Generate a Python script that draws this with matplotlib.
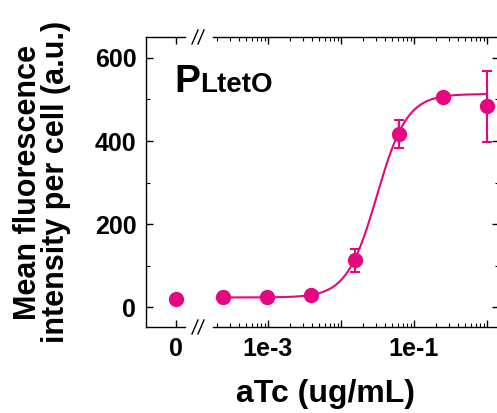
"""
Dose-response of the PLtetO promoter to aTc (broken x axis: 0 + log range).
"""

import numpy as np
import matplotlib
matplotlib.use('Agg')
import matplotlib.pyplot as plt
from matplotlib.lines import Line2D
from matplotlib.ticker import FixedLocator, NullFormatter

# Data
ZERO_DOSE_MEAN = [21]
ATC_DOSE = [0.000244, 0.000977, 0.0039, 0.0156, 0.0625, 0.25, 1.0]
FLUOR_MEAN = [24, 25, 30, 113, 417, 505, 483]
FLUOR_ERR = [0, 0, 0, 27, 33, 6, 86]

# Hill fit parameters (curve drawn through the points)
FIT_BOTTOM = 24
FIT_TOP = 513
FIT_K = 0.031
FIT_N = 2.1

Y_TICKS = [0, 200, 400, 600]
Y_MINOR = [100, 300, 500]
DECADES = [1e-4, 1e-3, 1e-2, 1e-1, 1]
DECADE_LABELS = ['', '1e-3', '', '1e-1', '']

COLOR = '#E6067F'
FONT = 'Liberation Sans'
W, H = 497, 413


def fx(px):
    return px / W


def fy(py):
    return 1 - py / H


def style_ticks(ax):
    ax.tick_params(which='major', direction='in', length=5, width=1,
                   labelsize=18, pad=7)
    ax.tick_params(which='minor', direction='in', length=2.8, width=0.8)
    for lab in ax.get_xticklabels() + ax.get_yticklabels():
        lab.set_fontfamily(FONT)
        lab.set_fontweight('bold')


def main():
    plt.rcParams['font.family'] = FONT
    plt.rcParams['font.weight'] = 'bold'

    fig = plt.figure(figsize=(W / 100, H / 100), dpi=100)
    top, bottom = 37, 327
    ax0 = fig.add_axes([fx(146), fy(bottom), fx(185 - 146), (bottom - top) / H])
    ax1 = fig.add_axes([fx(212.5), fy(bottom), fx(499 - 212.5), (bottom - top) / H],
                       sharey=ax0)

    # zero-dose segment
    ax0.plot([0], ZERO_DOSE_MEAN, 'o', color=COLOR, markersize=10, clip_on=False)
    ax0.set_xticks([0])
    ax0.set_xticklabels(['0'])
    ax0.set_xlim(-1, 0.3)
    ax0.set_yticks(Y_TICKS)
    ax0.set_yticks(Y_MINOR, minor=True)
    ax0.set_ylim(-47, 650)
    ax0.spines['right'].set_visible(False)
    ax0.xaxis.set_ticks_position('both')
    ax0.yaxis.set_ticks_position('left')
    style_ticks(ax0)

    # log segment
    xs = np.logspace(np.log10(ATC_DOSE[0]), np.log10(ATC_DOSE[-1]), 300)
    fit = FIT_BOTTOM + (FIT_TOP - FIT_BOTTOM) * xs**FIT_N / (FIT_K**FIT_N + xs**FIT_N)
    ax1.plot(xs, fit, color=COLOR, linewidth=1.5)
    ax1.errorbar(ATC_DOSE, FLUOR_MEAN, yerr=FLUOR_ERR, fmt='o', color=COLOR,
                 markersize=10, elinewidth=1.5, capsize=3.5, capthick=1.5,
                 clip_on=False)
    ax1.set_xscale('log')
    ax1.set_xticks(DECADES, DECADE_LABELS)
    minor = [k * d for d in DECADES for k in range(2, 10)]
    ax1.xaxis.set_minor_locator(FixedLocator(minor))
    ax1.xaxis.set_minor_formatter(NullFormatter())
    # limits after the ticks, set_xticks would otherwise widen them
    ax1.set_xlim(10**-3.76, 10**0.164)
    ax1.set_ylim(-47, 650)
    ax1.spines['left'].set_visible(False)
    ax1.xaxis.set_ticks_position('both')
    ax1.yaxis.set_ticks_position('right')
    ax1.tick_params(axis='y', labelright=False, labelleft=False)
    style_ticks(ax1)

    for ax in (ax0, ax1):
        for sp in ax.spines.values():
            sp.set_linewidth(1)

    # axis break marks
    for yb in (top, bottom):
        for x0 in (192, 198):
            fig.add_artist(Line2D([fx(x0), fx(x0 + 6)], [fy(yb + 7), fy(yb - 7)],
                                  color='black', linewidth=1))

    # labels
    fig.text(fx(42), fy(182), 'Mean fluorescence\nintensity per cell (a.u.)',
             rotation=90, ha='center', va='center', fontsize=22,
             fontweight='bold', linespacing=0.95, multialignment='center')
    fig.text(fx(325), fy(402), 'aTc (ug/mL)', ha='center', va='baseline',
             fontsize=23, fontweight='bold')
    fig.text(fx(174), fy(92), 'P', ha='left', va='baseline', fontsize=28,
             fontweight='bold')
    fig.text(fx(200), fy(92.5), 'LtetO', ha='left', va='baseline', fontsize=20,
             fontweight='bold')

    fig.savefig('out.png', dpi=100)
    plt.close(fig)


if __name__ == '__main__':
    main()
